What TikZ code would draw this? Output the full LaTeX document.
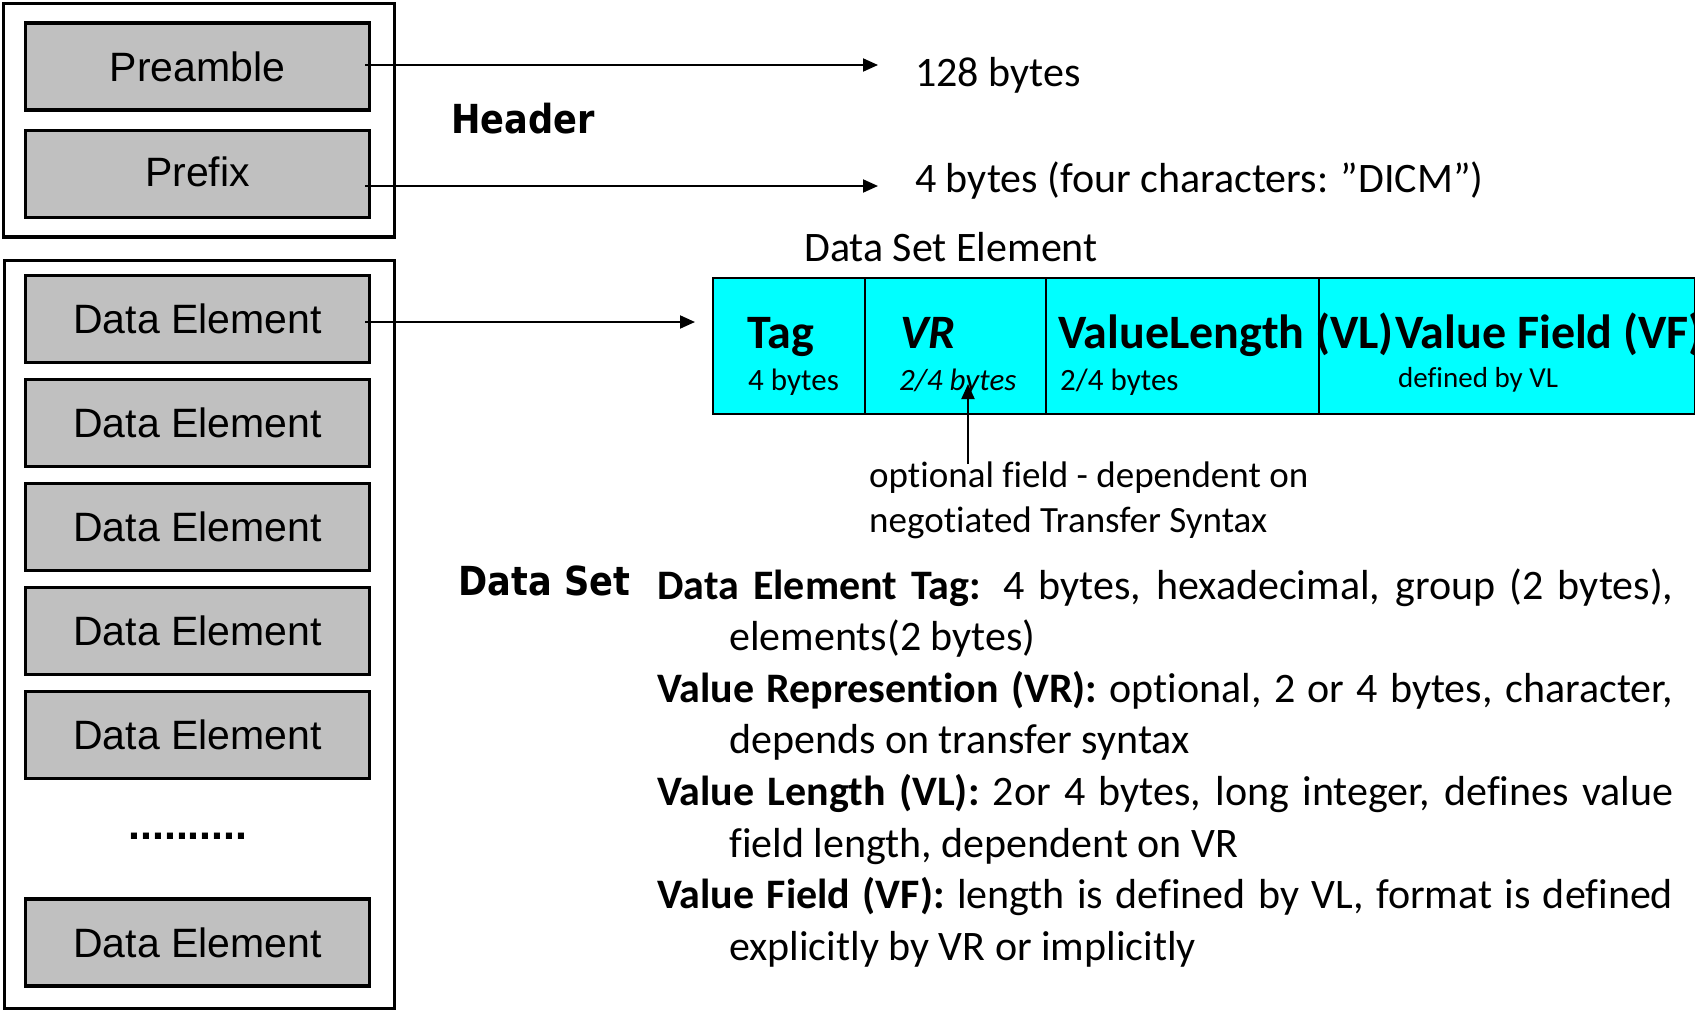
\documentclass[tikz,border=0pt]{standalone}
\usepackage{fontspec}
\setmainfont{Carlito}[Ligatures={NoCommon,NoContextual,NoRequired},Contextuals=NoAlternate]
\newfontfamily\guifont{Liberation Sans}
\newfontfamily\capfont{DejaVu Sans}[FakeStretch=0.88]
\usetikzlibrary{arrows.meta}
\definecolor{boxgray}{RGB}{192,192,192}
\definecolor{cellcyan}{RGB}{0,255,255}
\begin{document}
\begin{tikzpicture}[x=1pt,y=-1pt,
  frame/.style={draw, line width=3.5pt, inner sep=0pt},
  grayblock/.style={draw, line width=3.5pt, fill=boxgray, minimum width=344pt,
    minimum height=87pt, inner sep=0pt, font=\guifont\fontsize{41}{41}\selectfont},
  cell/.style={draw, line width=2pt, fill=cellcyan, anchor=north west,
    minimum height=136pt, inner sep=0pt},
  txt/.style={anchor=base west, inner sep=0pt},
  big/.style={font=\fontsize{42}{50}\selectfont},
  head/.style={font=\fontsize{48}{52}\selectfont\bfseries},
  small/.style={font=\fontsize{31}{36}\selectfont},
  caption/.style={font=\capfont\bfseries\fontsize{40}{44}\selectfont},
  conn/.style={line width=2pt, -{Triangle[length=15pt,width=13pt]}},
]
\useasboundingbox (0,0) rectangle (1695,1010);

% left column: header frame and data set frame
\node[frame, minimum width=391.4pt, minimum height=233.7pt] (hdrbox) at (199,120.2) {};
\node[frame, line width=3pt, minimum width=390.3pt, minimum height=748pt] (dsbox) at (199.2,634) {};

\node[grayblock] (pre) at (197.5,66.5) {Preamble};
\node[grayblock] (pfx) at (197.5,173.8) {\raisebox{4pt}{Prefix}};
\foreach \i/\y in {1/319,2/423,3/527,4/631,5/735,6/942.5}
  \node[grayblock] (de\i) at (197.5,\y) {Data Element};
\node[txt, font=\guifont\bfseries\fontsize{43}{43}\selectfont] (dots) at (128,839) {..........};

% captions
\node[txt, caption] (hdrlabel) at (451,133.5) {Header};
\node[txt, caption] (dslabel) at (458,595) {Data Set};

% header field sizes
\node[txt, big] (b128) at (915,86) {128 bytes};
\node[txt, big] (bdicm) at (915,192) {4 bytes (four characters: ”DICM”)};
\coordinate (tipA) at (878,65);
\coordinate (tipB) at (878,186);
\draw[conn, shorten <=-6pt] (pre.east |- tipA) -- (tipA);
\draw[conn, shorten <=-6pt] (pfx.east |- tipB) -- (tipB);

% data set element layout
\node[txt, big] (dsetitle) at (804,261) {Data Set Element};
\node[cell, minimum width=152pt] (ctag) at (712,277) {};
\node[cell, minimum width=181pt] (cvr) at (864,277) {};
\node[cell, minimum width=273pt] (cvl) at (1045,277) {};
\node[cell, minimum width=376pt] (cvf) at (1318,277) {};

\node[txt, head] (ttag) at (747,348) {Tag};
\node[txt, small] (stag) at (748,390) {4 bytes};
\node[txt, head] (tvr) at (900,348) {\itshape VR};
\node[txt, small] (svr) at (899,390) {\itshape 2/4 bytes};
\node[txt, head] (tvl) at (1058,348) {ValueLength (VL)};
\node[txt, small] (svl) at (1060,390) {2/4 bytes};
\node[txt, head] (tvf) at (1395,348) {Value Field (VF)};
\node[txt, font=\fontsize{29}{34}\selectfont] (svf) at (1398,387) {defined by VL};

\coordinate (tipC) at (695,322);
\draw[conn, shorten <=-6pt] (de1.east |- tipC) -- (tipC);

% note on the optional VR field
\node[txt, font=\fontsize{37}{45}\selectfont] (opt1) at (869,487) {optional field - dependent on};
\node[txt, font=\fontsize{37}{45}\selectfont] (opt2) at (869,532) {negotiated Transfer Syntax};
\coordinate (vrtip) at (968,384);
\draw[conn, shorten <=-3pt] (vrtip |- opt1.north) -- (vrtip);

% field descriptions
\def\fullw{1016pt}
\node[txt, big] (p1) at (657,599) {\makebox[\fullw][s]{\textbf{Data Element Tag:} 4 bytes, hexadecimal, group (2 bytes),}};
\node[txt, big] (p2) at (729,650.6) {elements(2 bytes)};
\node[txt, big] (p3) at (657,702.2) {\makebox[\fullw][s]{\textbf{Value Represention (VR):} optional, 2 or 4 bytes, character,}};
\node[txt, big] (p4) at (729,753.8) {depends on transfer syntax};
\node[txt, big] (p5) at (657,805.4) {\makebox[\fullw][s]{\textbf{Value Length (VL):} 2or 4 bytes, long integer, defines value}};
\node[txt, big] (p6) at (729,857) {field length, dependent on VR};
\node[txt, big] (p7) at (657,908.6) {\makebox[\fullw][s]{\textbf{Value Field (VF):} length is defined by VL, format is defined}};
\node[txt, big] (p8) at (729,960.2) {explicitly by VR or implicitly};
\end{tikzpicture}
\end{document}
